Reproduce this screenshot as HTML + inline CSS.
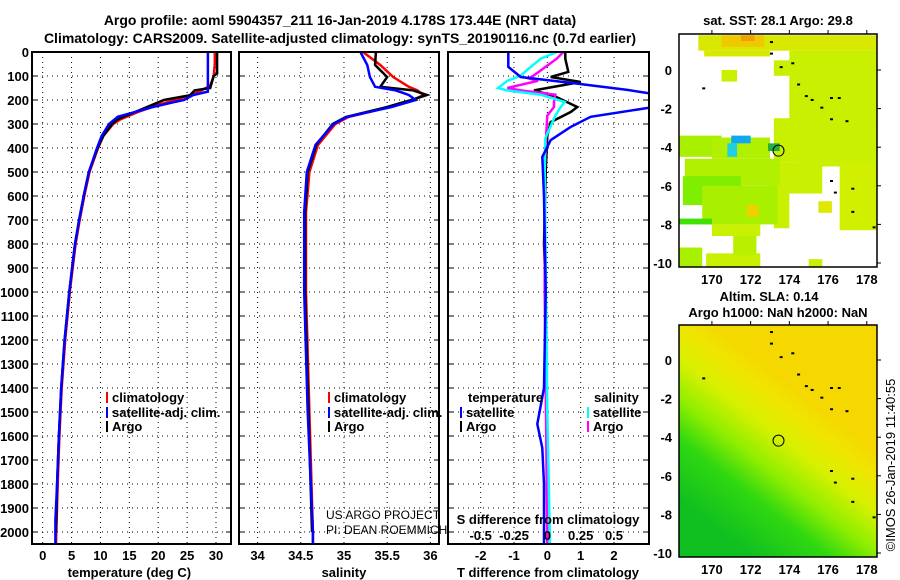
<!DOCTYPE html>
<html><head><meta charset="utf-8"><style>
html,body{margin:0;padding:0;background:#fff;}
svg{display:block;font-family:"Liberation Sans",sans-serif;}
.b{font-weight:bold;font-size:13px;}
</style></head><body>
<svg id="c" width="900" height="580" viewBox="0 0 900 580">
<text x="340" y="25" text-anchor="middle" class="b" style="font-size:14px">Argo profile: aoml 5904357_211 16-Jan-2019 4.178S 173.44E (NRT data)</text>
<text x="340" y="43" text-anchor="middle" class="b" style="font-size:14px">Climatology: CARS2009. Satellite-adjusted climatology: synTS_20190116.nc (0.7d earlier)</text>
<g id="g"></g>
</svg>
<script>
// ---- data ----
const depthTClim=[0,50,100,140,160,180,200,220,250,280,300,350,400,500,600,700,800,900,1000,1200,1400,1600,1800,2000,2050];
const tempClim=[29.8,29.8,29.6,29.0,27.5,25.5,23,20,16.5,13.5,12.2,10.5,9.6,8.1,7.2,6.4,5.7,5.2,4.7,3.9,3.3,2.9,2.6,2.35,2.3];
const depthTArgo=[0,90,100,150,160,180,200,220,250,280,300,350,400,500,600,700,800,900,1000,1200,1400,1600,1800,2000];
const tempArgo=[30.2,30.2,29.6,29.0,26.3,25.5,21,19,16,13,12,10.5,9.5,8.0,7.1,6.3,5.6,5.1,4.6,3.8,3.2,2.8,2.5,2.3];
const depthTSat=[0,165,180,200,210,230,250,270,300,350,400,500,600,700,800,900,1000,1200,1400,1600,1800,1950,2050];
const tempSat=[28.6,28.6,26,24.5,22.5,19,16,13,11.5,10.2,9.4,8.0,7.1,6.3,5.6,5.1,4.6,3.8,3.2,2.8,2.5,2.2,2.2];
const depthS=[0,54,104,145,160,179,200,229,271,300,387,500,667,1000,1500,2000,2050];
const salClim=[35.22,35.42,35.57,35.75,35.85,35.92,35.8,35.53,35.05,34.9,34.7,34.6,34.56,34.56,34.6,34.64,34.64];
const salArgo=[35.37,35.36,35.5,35.42,35.8,35.96,35.78,35.5,35.02,34.87,34.68,34.58,34.55,34.55,34.59,34.63];
const salSat=[35.19,35.27,35.3,35.36,35.6,35.75,35.83,35.55,35.03,34.88,34.67,34.57,34.54,34.54,34.58,34.64,34.64];
const depthDT=[0,62,104,130,158,171,185,229,270,312,367,437,600,1000,1400,1550,1650,1800,2050];
const dTSat=[-1.17,-1.17,-0.8,0.8,2.4,3.0,3.5,3.2,1.3,0.7,0.1,-0.15,-0.1,-0.05,-0.1,-0.3,-0.15,-0.1,-0.1];
const depthDTA=[0,28,83,104,125,160,183,229,250,292,350,500,800,1000];
const dTArgo=[0.54,0.54,0.63,0.1,1.0,-0.4,0.2,0.9,0.7,0.1,0,-0.05,-0.1,-0.05];
const depthDS=[0,28,97,110,120,150,160,178,208,229,265,360,500,1000,1500,2050];
const dSArgo=[0.12,0.07,-0.1,-0.14,-0.07,-0.3,-0.2,0.06,0.05,0.05,0,-0.01,-0.02,-0.02,-0.01,0];
const dSSat=[0.07,-0.05,-0.2,-0.25,-0.3,-0.37,-0.3,-0.05,0.13,0.1,0.06,-0.015,-0.02,-0.01,0,0.02];
const tTicks=[0,5,10,15,20,25,30];
const sTicks=[34,34.5,35,35.5,36];
const dtTicks=[-2,-1,0,1,2];
const dsTicks=[-0.5,-0.25,0,0.25,0.5];
const depthTicks=[0,100,200,300,400,500,600,700,800,900,1000,1100,1200,1300,1400,1500,1600,1700,1800,1900,2000];
const lonTicks=[170,172,174,176,178];
const latTicks=[0,-2,-4,-6,-8,-10];

const NS='http://www.w3.org/2000/svg';
const G=document.getElementById('g');
function el(t,a,p){const e=document.createElementNS(NS,t);for(const k in a)e.setAttribute(k,a[k]);(p||G).appendChild(e);return e;}
const Y0=52,Y1=544;
const yD=d=>Y0+(d/2050)*(Y1-Y0);
const P1={x0:32,x1:231,min:-1.85,max:32.6};
const P2={x0:239,x1:439,min:33.785,max:36.1};
const P3={x0:448,x1:649,min:-2.98,max:3.05};
const xs=(P,v)=>P.x0+(v-P.min)/(P.max-P.min)*(P.x1-P.x0);

function frame(P,ticks,name){
  const cp=el('clipPath',{id:'cp'+name});el('rect',{x:P.x0,y:Y0,width:P.x1-P.x0,height:Y1-Y0},cp);
  depthTicks.forEach(d=>{const y=yD(d);
    const l=el('line',{x1:P.x0,x2:P.x1,y1:y,y2:y,stroke:'#000','stroke-width':1,'stroke-dasharray':'1,4'});
    
    el('line',{x1:P.x0,x2:P.x0+5,y1:y,y2:y,stroke:'#000'});el('line',{x1:P.x1-5,x2:P.x1,y1:y,y2:y,stroke:'#000'});});
  ticks.forEach(v=>{const x=xs(P,v);
    const l=el('line',{x1:x,x2:x,y1:Y0,y2:Y1,stroke:'#000','stroke-width':1,'stroke-dasharray':'1,4'});
    });
}
function box(P,name){const r=el('rect',{x:P.x0,y:Y0,width:P.x1-P.x0,height:Y1-Y0,fill:'none',stroke:'#000','stroke-width':2});
  }
function line(P,ds,vs,col,name,scale){
  const pts=vs.map((v,i)=>xs(P,v*(scale||1)).toFixed(1)+','+yD(ds[i]).toFixed(1)).join(' ');
  const p=el('polyline',{points:pts,fill:'none',stroke:col,'stroke-width':2.5,'clip-path':'url(#cp'+P.n+')'});
  }
function txt(x,y,s,name,anchor,cls,extra){const t=el('text',Object.assign({x:x,y:y,'text-anchor':anchor||'start',class:cls===undefined?'b':cls},extra||{}));t.textContent=s;
  return t;}
P1.n='1';P2.n='2';P3.n='3';
frame(P1,tTicks,'1');frame(P2,sTicks,'2');frame(P3,dtTicks,'3');
line(P1,depthTClim,tempClim,'#f00','temp-climatology-line');
line(P1,depthTArgo,tempArgo,'#000','temp-argo-line');
line(P1,depthTSat,tempSat,'#00f','temp-satellite-line');
line(P2,depthS,salClim,'#f00','sal-climatology-line');
line(P2,depthS.slice(0,salArgo.length),salArgo,'#000','sal-argo-line');
line(P2,depthS,salSat,'#00f','sal-satellite-line');
line(P3,depthDTA,dTArgo,'#000','dT-argo-line');
line(P3,depthDS,dSArgo,'#f0f','dS-argo-line',4);
line(P3,depthDS,dSSat,'#0ff','dS-satellite-line',4);
line(P3,depthDT,dTSat,'#00f','dT-satellite-line');
box(P1,'temperature-panel');box(P2,'salinity-panel');box(P3,'difference-panel');
depthTicks.forEach(d=>txt(29,yD(d)+5,String(d),'depth-tick-label','end'));
tTicks.forEach(v=>txt(xs(P1,v),560,String(v),'temp-tick-label','middle'));
sTicks.forEach(v=>txt(xs(P2,v),560,String(v),'sal-tick-label','middle'));
dtTicks.forEach(v=>txt(xs(P3,v),560,String(v),'dT-tick-label','middle'));
dsTicks.forEach(v=>txt(xs(P3,v*4),540,String(v),'dS-tick-label','middle'));
txt(xs(P1,15),577,'temperature (deg C)','temp-axis-title','middle');
txt(xs(P2,35),577,'salinity','sal-axis-title','middle');
txt(548,577,'T difference from climatology','dT-axis-title','middle');
txt(548,524,'S difference from climatology','dS-axis-title','middle');
function leg(x,y,col,s,name){el('rect',{x:x,y:y-10,width:2,height:11,fill:col});txt(x+6,y,s,name);}
leg(106,402,'#f00','climatology','legend-climatology');leg(106,417,'#00f','satellite-adj. clim.','legend-satellite-adj');leg(106,431,'#000','Argo','legend-argo');
leg(328,402,'#f00','climatology','legend-climatology-2');leg(328,417,'#00f','satellite-adj. clim.','legend-satellite-adj-2');leg(328,431,'#000','Argo','legend-argo-2');
txt(468,402,'temperature','legend-temperature-header');
leg(460,417,'#00f','satellite','legend-t-satellite');leg(460,431,'#000','Argo','legend-t-argo');
txt(594,402,'salinity','legend-salinity-header');
leg(587,417,'#0ff','satellite','legend-s-satellite');leg(587,431,'#f0f','Argo','legend-s-argo');
txt(326,519,'US ARGO PROJECT','credit-project','start','',{style:'font-size:12px'});
txt(326,534,'PI: DEAN ROEMMICH','credit-pi','start','',{style:'font-size:12px'});

// ---- maps ----
const MX0=679,MX1=877;
const mx=lon=>MX0+(lon-168.3)*19.36;
function map(top,lat0y,bottom){const my=lat=>lat0y-lat*19.3;return {my,top,bottom};}
const M1=map(34,70,267), M2=map(325,360,557);
const cp1=el('clipPath',{id:'m1'});el('rect',{x:MX0,y:34,width:MX1-MX0,height:233},cp1);
const g1=el('g',{'clip-path':'url(#m1)'});
function rr(g,M,l0,l1,a0,a1,col){el('rect',{x:mx(l0),y:M.my(a0),width:mx(l1)-mx(l0),height:M.my(a1)-M.my(a0),fill:col},g);}
const YG='#c8f000';
rr(g1,M1,169.3,178.5,1.8,1.0,'#d8e800');rr(g1,M1,170.5,172.7,1.8,1.2,'#f0c800');rr(g1,M1,171.5,172.2,1.8,1.5,'#f0a000');
rr(g1,M1,169.6,173,1.0,0.7,'#d8e800');rr(g1,M1,174.0,178.5,1.0,-2.8,YG);rr(g1,M1,173.2,174.1,0.5,-0.3,YG);
rr(g1,M1,174.5,178.5,-2.5,-5.0,YG);rr(g1,M1,173.2,175,-2.5,-4.8,YG);rr(g1,M1,176.6,178.5,-4.8,-8.3,'#d0f000');
rr(g1,M1,175.5,176.2,-6.8,-7.4,'#e0e800');rr(g1,M1,173,175.7,-4.8,-6.4,YG);rr(g1,M1,173.2,174.0,-6.4,-8.2,YG);
rr(g1,M1,170.5,171.3,-0.0,-0.6,YG);rr(g1,M1,168.3,170.5,-3.4,-4.5,'#a8f000');rr(g1,M1,170.0,173,-3.5,-4.6,'#b0f000');
rr(g1,M1,171.0,172.0,-3.4,-3.8,'#10a8f0');rr(g1,M1,170.8,171.3,-3.8,-4.5,'#20d0e0');rr(g1,M1,172.9,173.5,-3.8,-4.2,'#20b040');
rr(g1,M1,168.6,173.5,-4.6,-6.0,'#b0f000');rr(g1,M1,168.5,171.5,-5.5,-7.0,'#80ee00');rr(g1,M1,169.5,173.4,-6.0,-8.0,'#a8f000');
rr(g1,M1,168.3,170,-7.7,-8.0,'#40e000');rr(g1,M1,170,172.5,-8,-8.6,YG);rr(g1,M1,168.3,169.5,-9.2,-10.2,'#a8f000');
rr(g1,M1,169.7,172.5,-9.5,-10.2,YG);rr(g1,M1,171.1,172.3,-8.6,-9.6,'#b8f000');rr(g1,M1,175.0,175.7,-9.8,-10.2,YG);
rr(g1,M1,171.8,172.4,-7.0,-7.6,'#f0d000');
const defs=el('defs',{});const lg=el('linearGradient',{id:'sla',x1:'0.15',y1:'0.85',x2:'0.55',y2:'0.25'},defs);
[[0,'#10c020'],[0.3,'#30d810'],[0.5,'#90ee00'],[0.7,'#d8f000'],[0.88,'#f0e400'],[1,'#f4d800']].forEach(s=>el('stop',{offset:s[0],'stop-color':s[1]},lg));
const m2=el('rect',{x:MX0,y:325,width:MX1-MX0,height:232,fill:'url(#sla)'});

const coast=[[173,1.5],[173,0.9],[173.5,0.2],[174.1,0.4],[174.4,-0.7],[174.8,-1.3],[175.1,-1.5],[176.1,-1.4],[176.5,-1.4],[175.6,-1.9],[176.1,-2.5],[176.9,-2.6],[176.1,-5.7],[176.3,-6.3],[177.2,-6.1],[177.2,-7.3],[178.3,-8.1],[169.5,-0.9]];
[M1,M2].forEach(M=>{
  coast.forEach(c=>el('rect',{x:mx(c[0]),y:M.my(c[1]),width:3,height:2,fill:'#000'}));
  const ci=el('circle',{cx:mx(173.44),cy:M.my(-4.18),r:5.5,fill:'none',stroke:'#000','stroke-width':1});
  
  const b=el('rect',{x:MX0,y:M.top,width:MX1-MX0,height:M.bottom-M.top,fill:'none',stroke:'#000','stroke-width':1.5});
  
  lonTicks.forEach(l=>{el('line',{x1:mx(l),x2:mx(l),y1:M.top,y2:M.top-4,stroke:'#000'});txt(mx(l),M.bottom+17,String(l),'lon-tick-label','middle');});
  latTicks.forEach(a=>{el('line',{x1:MX1,x2:MX1+4,y1:M.my(a),y2:M.my(a),stroke:'#000'});txt(MX0-7,M.my(a)+5,String(a),'lat-tick-label','end');});
});
txt(778,25,'sat. SST: 28.1 Argo: 29.8','sst-map-title','middle');
txt(769,301,'Altim. SLA: 0.14','sla-map-title','middle');
txt(778,317,'Argo h1000: NaN h2000: NaN','sla-map-subtitle','middle');
txt(0,0,'©IMOS 26-Jan-2019 11:40:55','timestamp','middle','',{transform:'translate(895,465) rotate(-90)',style:'font-size:13px'});
</script>
</body></html>
